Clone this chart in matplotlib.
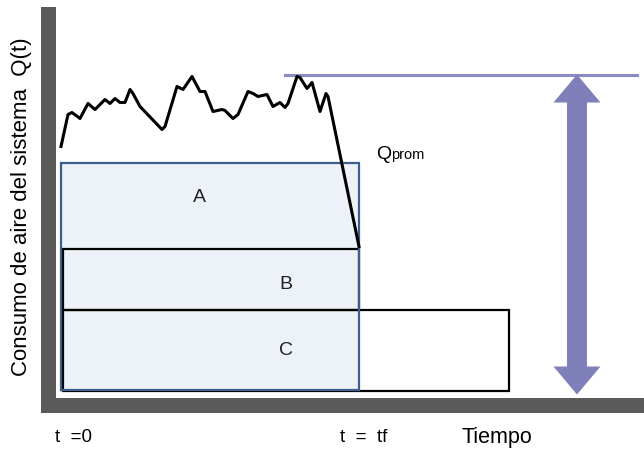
import matplotlib.pyplot as plt
from matplotlib.patches import Rectangle, FancyArrow

# air consumption curve Q(t) (schematic units)
t_curve = [0, 7, 11, 19, 27, 34, 44, 49, 54, 59, 64, 69, 72, 79, 101, 104,
           116, 122, 131, 139, 144, 152, 161, 164, 172, 177, 187, 192, 197,
           206, 212, 219, 224, 227, 236, 239, 246, 251, 259, 265, 267, 298]
q_curve = [258, 290, 292, 286, 301, 295, 305, 301, 306, 302, 302, 315, 311,
           298, 275, 278, 318, 315, 328, 313, 313, 293, 295, 294, 286, 290,
           313, 311, 308, 310, 298, 302, 297, 301, 328, 327, 316, 322, 293,
           311, 308, 158]

t_start = 0
t_f = 298
t_c_end = 448
q_base = 15
q_c_top = 95
q_b_top = 156
q_a_top = 242
q_prom = 330
q_arrow_bottom = 10
t_arrow = 516
t_prom_line = [224, 576]

plt.rcParams['font.family'] = ['Liberation Sans', 'DejaVu Sans']

fig = plt.figure(figsize=(6.44, 4.53), dpi=100)
ax = fig.add_axes([47.5 / 644, (453 - 404.5) / 453, (644 - 47.5) / 644, 391 / 453])
ax.set_xlim(-13.5, 583)
ax.set_ylim(0, 391)
ax.set_xticks([])
ax.set_yticks([])
for side in ['top', 'right']:
    ax.spines[side].set_visible(False)
for side in ['left', 'bottom']:
    ax.spines[side].set_color('#5a5a5a')
    ax.spines[side].set_linewidth(10.8)
    ax.spines[side].set_capstyle('projecting')

# region A (blue fill behind, edge on top)
ax.add_patch(Rectangle((t_start, q_base), t_f - t_start, q_a_top - q_base,
                       facecolor='#edf2f8', edgecolor='none', zorder=1))
# region B and C
ax.add_patch(Rectangle((t_start + 2, q_c_top), t_f - t_start - 2, q_b_top - q_c_top,
                       facecolor='none', edgecolor='black', lw=1.6, zorder=2))
ax.add_patch(Rectangle((t_start + 2, q_base - 1), t_c_end - t_start - 2, q_c_top - q_base + 1,
                       facecolor='none', edgecolor='black', lw=1.6, zorder=2))
ax.add_patch(Rectangle((t_start, q_base), t_f - t_start, q_a_top - q_base,
                       facecolor='none', edgecolor='#3e5f8e', lw=1.6, zorder=3))

ax.plot(t_curve, q_curve, color='black', lw=2.2, zorder=4)

# Qprom line and double arrow (two halves overlapping in the middle)
ax.plot(t_prom_line, [q_prom, q_prom], color='#8a8ac4', lw=2.2, zorder=3)
mid = (q_prom + q_arrow_bottom) / 2
for end, start in [(q_prom, mid - 10), (q_arrow_bottom, mid + 10)]:
    ax.add_patch(FancyArrow(t_arrow, start, 0, end - start, width=20, head_width=47,
                            head_length=28, length_includes_head=True,
                            color='#7f7fb9', lw=0, zorder=3))

ax.text(138, 207, 'A', fontsize=14, ha='center', va='center', color='#222222')
ax.text(225, 120, 'B', fontsize=14, ha='center', va='center', color='#222222')
ax.text(225, 54, 'C', fontsize=14, ha='center', va='center', color='#222222')

ax.text(315, 245.5, 'Q', fontsize=14, ha='left', va='baseline')
ax.text(330, 245.5, 'prom', fontsize=10.5, ha='left', va='baseline')

ax.text(-6, -33.5, 't  =0', fontsize=13.5, ha='left', va='center', clip_on=False)
ax.text(279, -33.5, 't  =  tf', fontsize=13.5, ha='left', va='center', clip_on=False)
ax.text(401, -33.5, 'Tiempo', fontsize=15.5, ha='left', va='center', clip_on=False)

fig.text(22 / 644, (453 - 206.5) / 453, 'Consumo de aire del sistema  Q(t)',
         rotation=90, fontsize=16, ha='center', va='center')

fig.savefig('out.png', dpi=100)
